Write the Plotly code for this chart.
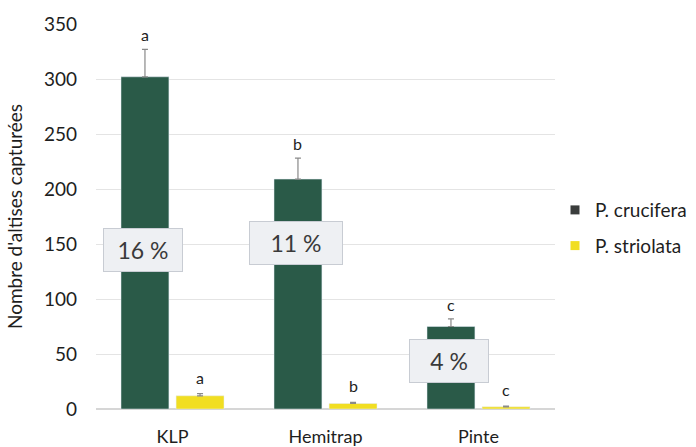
import plotly.graph_objects as go

# Trap types and mean catches per flea beetle species
traps = ["KLP", "Hemitrap", "Pinte"]
crucifera = [302, 209, 75]
crucifera_err = [25, 19, 7]
striolata = [12, 5, 2]
striolata_err = [2, 1, 0.6]
crucifera_letters = ["a", "b", "c"]
striolata_letters = ["a", "b", "c"]
striolata_share = ["16 %", "11 %", "4 %"]
share_label_y = [145, 151, 44]

GREEN = "#2a5a48"
YELLOW = "#f1de22"
FONT = "Lato, 'Open Sans', sans-serif"
TEXT = "#1e1e1e"

fig = go.Figure()

fig.add_trace(go.Bar(
    x=traps, y=crucifera, name="P. crucifera", marker_color=GREEN,
    error_y=dict(type="data", array=crucifera_err, arrayminus=[0] * 3,
                 symmetric=False, color="#8a8a8a", thickness=1.2, width=3),
    showlegend=False,
))
fig.add_trace(go.Bar(
    x=traps, y=striolata, name="P. striolata", marker_color=YELLOW,
    error_y=dict(type="data", array=striolata_err, arrayminus=[0] * 3,
                 symmetric=False, color="#8a8a8a", thickness=1.2, width=3),
    showlegend=False,
))

# Legend entries with square swatches
fig.add_trace(go.Scatter(x=[None], y=[None], mode="markers", name="P. crucifera",
                         legendgroup="c", marker=dict(symbol="square", size=9, color="#3a3d3c")))
fig.add_trace(go.Scatter(x=[None], y=[None], mode="markers", name="P. striolata",
                         legendgroup="s", marker=dict(symbol="square", size=9, color=YELLOW)))

offset = 0.18  # half a bar slot in category units
annotations = []
for i in range(len(traps)):
    annotations.append(dict(
        x=i - offset, y=crucifera[i] + crucifera_err[i], text=crucifera_letters[i],
        showarrow=False, yanchor="bottom", yshift=3,
        font=dict(family=FONT, size=16, color=TEXT)))
    annotations.append(dict(
        x=i + offset, y=striolata[i] + striolata_err[i], text=striolata_letters[i],
        showarrow=False, yanchor="bottom", yshift=5,
        font=dict(family=FONT, size=16, color=TEXT)))
    annotations.append(dict(
        x=i - offset - 0.01, y=share_label_y[i], text=striolata_share[i],
        showarrow=False, bgcolor="#eef0f3", bordercolor="#c8ccd3", borderwidth=1,
        borderpad=7, width=64 if i != 1 else 78,
        font=dict(family=FONT, size=23, color="#3a3a3a")))

fig.update_layout(
    width=696, height=447,
    margin=dict(l=96, r=141, t=24, b=38, autoexpand=False),
    paper_bgcolor="white", plot_bgcolor="white",
    barmode="group", bargap=0.28, bargroupgap=0.13,
    font=dict(family=FONT, color=TEXT),
    annotations=annotations,
    legend=dict(x=1.0, y=0.47, xanchor="left", yanchor="middle",
                font=dict(family=FONT, size=19, color=TEXT),
                tracegroupgap=8, itemwidth=30),
    yaxis=dict(range=[0, 350], dtick=50, showgrid=True, gridcolor="#e4e4e4",
               gridwidth=1, zeroline=True, zerolinecolor="#d6d6d6",
               tickfont=dict(family=FONT, size=19, color=TEXT),
               ticks="", ticklabelstandoff=18, automargin=False,
               title=dict(text="Nombre d'altises capturées", standoff=16,
                          font=dict(family=FONT, size=19, color=TEXT))),
    xaxis=dict(range=[-0.5, 2.5], showgrid=False, showline=False,
               tickfont=dict(family=FONT, size=18, color=TEXT),
               ticks="", ticklabelstandoff=15, automargin=False),
)

fig.write_html("out.html")
